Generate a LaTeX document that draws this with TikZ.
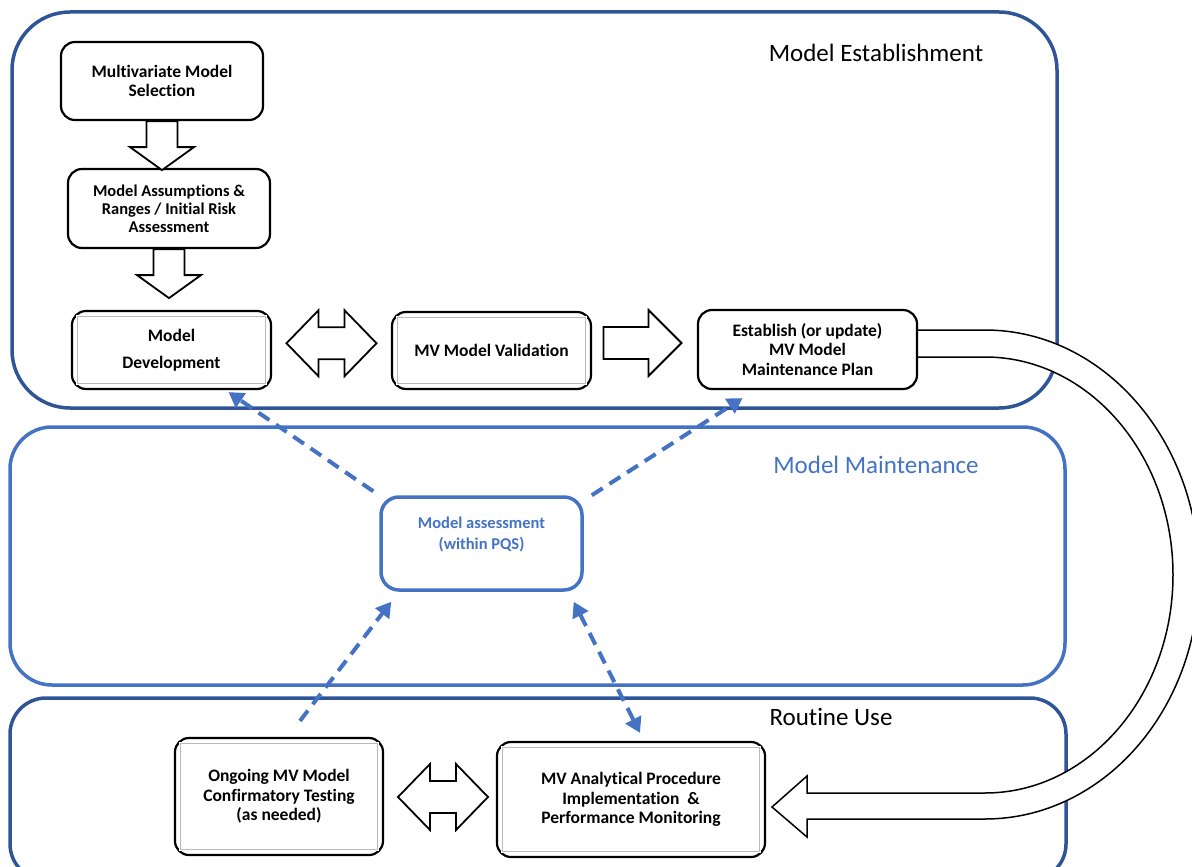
\documentclass[tikz,border=0pt]{standalone}
\usepackage{fontspec}
\setmainfont{Carlito}[Ligatures=NoCommon]
\usetikzlibrary{arrows.meta,calc}
\definecolor{estblue}{HTML}{2F5597}
\definecolor{mntblue}{HTML}{4472C4}
\tikzset{
    region/.style={line width=3.5pt},
    title/.style={anchor=base,font=\fontsize{25}{30}\selectfont},
    procbox/.style={draw,line width=2.2pt,rounded corners=14pt,fill=white,align=center,inner sep=0pt,
        font=\bfseries\fontsize{17.5}{19.5}\selectfont},
    innerrim/.style={draw=gray!55,line width=0.5pt,double=white,double distance=1pt},
    blk/.style={draw=black,line width=1.8pt,fill=white},
    dasharr/.style={draw=mntblue,line width=4pt,dash pattern=on 13pt off 8pt,-{Triangle[length=15pt,width=17pt]}},
    darr/.pic={\draw[blk] (-15.5,0) -- (-15.5,26) -- (-32,26) -- (0,49) -- (32,26) -- (15.5,26) -- (15.5,0) -- cycle;},
    rarr/.pic={\draw[blk] (-39,-16) -- (6,-16) -- (6,-33) -- (39,0) -- (6,33) -- (6,16) -- (-39,16) -- cycle;},
    dblarr/.pic={\draw[blk] (-45,0) -- (-13,-33) -- (-13,-16) -- (13,-16) -- (13,-33) -- (45,0) -- (13,33) -- (13,16) -- (-13,16) -- (-13,33) -- cycle;}
}

\begin{document}
\begin{tikzpicture}[x=1pt,y=-1pt]
    \useasboundingbox (0,0) rectangle (1192,867);

    % the three stages
    \draw[region,draw=estblue,rounded corners=58pt] (12,12) rectangle (1057,408);
    \draw[region,draw=mntblue,rounded corners=42pt] (10,427) rectangle (1065,685);
    \draw[region,draw=estblue,rounded corners=36pt] (10,698) rectangle (1066,880);
    \node[title] at (876,62) {Model Establishment};
    \node[title,text=mntblue] at (876,473) {Model Maintenance};
    \node[title] at (831,725) {Routine Use};

    % wide return arrow
    \draw[blk,line width=1.5pt] (917,330) -- (985,330) .. controls (1103,330) and (1199,440) .. (1199,575)
        .. controls (1199,710) and (1103,819) .. (985,819) -- (807,819) -- (807,837) -- (772,807)
        -- (807,776) -- (807,793) -- (985,793) .. controls (1089,793) and (1173,695) .. (1173,575)
        .. controls (1173,455) and (1089,357) .. (985,357) -- (917,357);

    \node[procbox,minimum width=202pt,minimum height=78pt] (sel) at (162,81) {Multivariate Model\\Selection};
    \node[procbox,minimum width=202pt,minimum height=79pt,font=\bfseries\fontsize{16.5}{18}\selectfont] (assum) at (169,208.5) {Model Assumptions \&\\Ranges / Initial Risk\\Assessment};
    \node[procbox,minimum width=199pt,minimum height=78pt] (dev) at (171.5,350) {Model\\[7pt]Development};
    \node[procbox,minimum width=199pt,minimum height=77pt] (valid) at (491.5,350.5) {MV Model Validation};
    \node[procbox,minimum width=219pt,minimum height=79pt] (plan) at (807.5,349.5) {Establish (or update)\\MV Model\\Maintenance Plan};
    \node[procbox,draw=mntblue,text=mntblue,line width=3.5pt,rounded corners=18pt,minimum width=201pt,minimum height=93pt,
        font=\bfseries\fontsize{16.5}{21}\selectfont] (asm) at (481.5,543.5) {Model assessment\\(within PQS)\\\mbox{}};
    \node[procbox,minimum width=208pt,minimum height=117pt] (ongoing) at (279,796.5) {Ongoing MV Model\\Confirmatory Testing\\(as needed)};
    \node[procbox,minimum width=268pt,minimum height=115pt] (mvap) at (631,799.5) {MV Analytical Procedure\\Implementation\ \ \&\\Performance Monitoring};
    \foreach \n in {dev,valid,ongoing,mvap}
        \draw[innerrim] ([shift={(6,6)}]\n.north west) rectangle ([shift={(-6,-6)}]\n.south east);

    \pic at (sel.south) {darr};
    \pic at (assum.south) {darr};
    \pic at ($(dev.east)!0.5!(valid.west)+(0,-7)$) {dblarr};
    \pic at ($(valid.east)!0.5!(plan.west)+(-2,-7)$) {rarr};
    \pic at ($(ongoing.east)!0.5!(mvap.west)+(3,-1)$) {dblarr};

    \draw[dasharr] ([shift={(-6,-4)}]asm.north west) -- ([shift={(57,2)}]dev.south);
    \draw[dasharr] ([shift={(8,0)}]asm.north east) -- ([shift={(-65,8)}]plan.south);
    \draw[dasharr] ([shift={(21,-16)}]ongoing.north) -- ([shift={(12,10)}]asm.south west);
    \draw[dasharr,{Triangle[length=15pt,width=17pt]}-{Triangle[length=15pt,width=17pt]}] ([shift={(-10,10)}]asm.south east) -- ([shift={(9,-8)}]mvap.north);
\end{tikzpicture}
\end{document}
